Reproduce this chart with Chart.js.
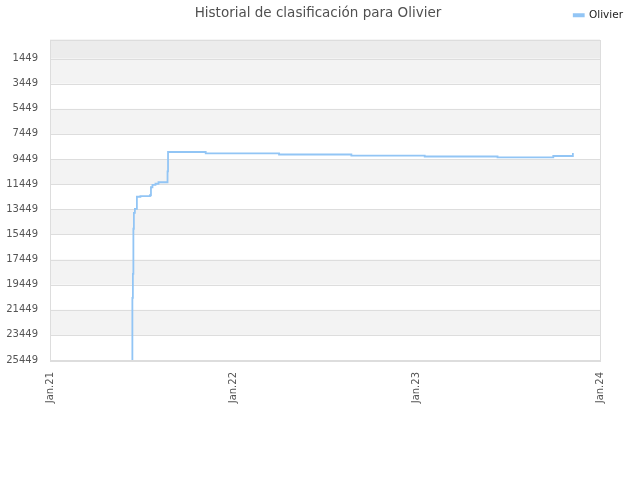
<!DOCTYPE html>
<html>
<head>
<meta charset="utf-8">
<script src="https://cdn.jsdelivr.net/npm/chart.js@4/dist/chart.umd.min.js"></script>
<style>
  html, body { margin: 0; padding: 0; background: #fff; }
  #wrap { width: 640px; height: 480px; }
</style>
</head>
<body>
<div id="wrap"><canvas id="chart" width="640" height="480"></canvas></div>
<script>
// days since 1 Jan 2021 where the ranking changes
const dayOffsets = [164, 164, 165, 166, 166, 167, 169, 173, 180, 199, 201, 204, 210, 216, 234, 235, 310, 456, 600, 746, 891, 1002, 1041];
const ranks      = [25449, 20507, 18593, 17480, 15000, 13730, 13420, 12453, 12400, 12333, 11696, 11500, 11416, 11297, 10436, 8889, 9000, 9090, 9184, 9250, 9320, 9210, 8970];

const xTicks = [0, 365, 730, 1095];
const xTickLabels = ['Jan.21', 'Jan.22', 'Jan.23', 'Jan.24'];
const yTicks = [1449, 3449, 5449, 7449, 9449, 11449, 13449, 15449, 17449, 19449, 21449, 23449, 25449];

const chartTitle = 'Historial de clasificación para Olivier';
const seriesName = 'Olivier';
const lineColor = '#92c5f5';

// Bandas alternas y borde del área
const bandsPlugin = {
  id: 'bands',
  beforeDatasetsDraw(chart) {
    const { ctx, chartArea: a, scales: { y } } = chart;
    ctx.save();
    ctx.fillStyle = '#ececec';
    ctx.fillRect(a.left, a.top, a.right - a.left, y.getPixelForValue(yTicks[0]) - a.top);
    ctx.fillStyle = '#f3f3f3';
    for (let i = 0; i < yTicks.length - 1; i += 2) {
      const top = y.getPixelForValue(yTicks[i]);
      const bot = y.getPixelForValue(yTicks[i + 1]);
      ctx.fillRect(a.left, top, a.right - a.left, bot - top);
    }
    ctx.strokeStyle = '#dddddd';
    ctx.lineWidth = 1;
    ctx.beginPath();
    yTicks.forEach(v => {
      const p = Math.round(y.getPixelForValue(v)) + 0.5;
      ctx.moveTo(a.left, p);
      ctx.lineTo(a.right, p);
    });
    ctx.stroke();
    ctx.strokeRect(Math.round(a.left) + 0.5, Math.round(a.top) + 0.5, Math.round(a.right - a.left), Math.round(a.bottom - a.top));
    ctx.restore();
  }
};

// Título en la misma línea que la leyenda
const titlePlugin = {
  id: 'inlineTitle',
  beforeLayout(chart) {
    // deja espacio extra bajo la leyenda
    const lg = chart.legend;
    if (lg && !lg._padded) {
      const fit = lg.fit;
      lg.fit = function() { fit.call(this); this.height += 9; };
      lg._padded = true;
    }
  },
  afterDraw(chart) {
    const ctx = chart.ctx;
    ctx.save();
    ctx.font = '13.5px "DejaVu Sans"';
    ctx.fillStyle = '#505050';
    ctx.textAlign = 'center';
    ctx.textBaseline = 'middle';
    ctx.fillText(chartTitle, 318, 13);
    ctx.restore();
  }
};

new Chart(document.getElementById('chart'), {
  type: 'line',
  data: {
    datasets: [{
      label: seriesName,
      data: dayOffsets.map((d, i) => ({ x: d, y: ranks[i] })),
      borderColor: lineColor,
      backgroundColor: lineColor,
      borderWidth: 1.8,
      stepped: 'before',
      pointRadius: 0,
      fill: false
    }]
  },
  options: {
    responsive: false,
    animation: false,
    layout: { padding: { top: 0, right: 7, bottom: 0, left: 0 } },
    plugins: {
      title: { display: false },
      tooltip: { enabled: false },
      legend: {
        display: true,
        position: 'top',
        align: 'end',
        labels: {
          boxWidth: 10,
          boxHeight: 2,
          padding: 10,
          color: '#222',
          font: { family: 'DejaVu Sans', size: 10.5 }
        }
      }
    },
    scales: {
      x: {
        type: 'linear',
        min: xTicks[0],
        max: xTicks[xTicks.length - 1],
        afterBuildTicks: s => { s.ticks = xTicks.map(v => ({ value: v })); },
        afterFit: s => { s.height = 120; },
        grid: { display: false, drawTicks: false },
        border: { display: false },
        ticks: {
          autoSkip: false,
          minRotation: 90,
          maxRotation: 90,
          padding: 12,
          color: '#555',
          font: { family: 'DejaVu Sans', size: 10 },
          callback: v => xTickLabels[xTicks.indexOf(v)]
        }
      },
      y: {
        type: 'linear',
        reverse: true,
        min: -66,
        max: yTicks[yTicks.length - 1],
        afterBuildTicks: s => { s.ticks = yTicks.map(v => ({ value: v })); },
        afterFit: s => { s.width = 50; },
        grid: { display: false, drawTicks: false },
        border: { display: false },
        ticks: {
          padding: 12,
          color: '#555',
          font: { family: 'DejaVu Sans', size: 10 },
          callback: v => String(v)
        }
      },
      yRight: {
        type: 'linear',
        position: 'right',
        afterFit: s => { s.width = 33; },
        grid: { display: false, drawTicks: false },
        border: { display: false },
        ticks: { display: false }
      }
    }
  },
  plugins: [bandsPlugin, titlePlugin]
});
</script>
</body>
</html>
